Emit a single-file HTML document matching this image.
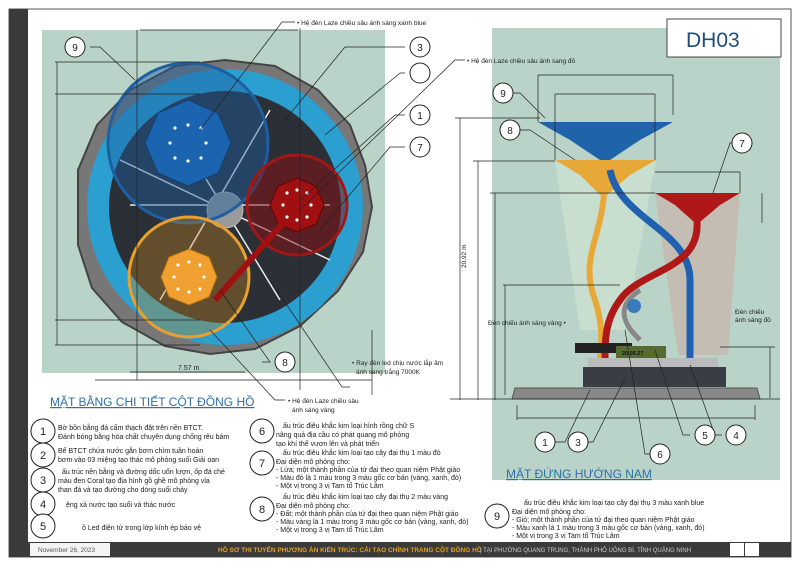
<!DOCTYPE html>
<html><head><meta charset="utf-8"><style>
body{margin:0;width:800px;height:565px;background:#fff;overflow:hidden;font-family:"Liberation Sans","DejaVu Sans",sans-serif}
svg text{font-family:"Liberation Sans","DejaVu Sans",sans-serif}
</style></head><body>
<svg width="800" height="565" viewBox="0 0 800 565" xmlns="http://www.w3.org/2000/svg">
<rect x="9" y="9" width="782" height="548" fill="#fff" stroke="#555" stroke-width="1"/>
<rect x="9" y="9" width="19" height="548" fill="#3a3a3a"/>
<!-- left panel -->
<rect x="42" y="30" width="343" height="343" fill="#b9d3c8"/>
<!-- right panel -->
<rect x="492" y="28" width="288" height="452" fill="#b9d3c8"/>
<rect x="667" y="19" width="114" height="38" fill="#fff" stroke="#444"/>
<text x="686" y="47" font-size="21" fill="#1f4e79">DH03</text>

<!-- plan -->
<polygon points="372,207 363,252 338,291 300,326 255,349 210,354 165,346 122,322 92,288 78,245 78,170 97,125 130,90 175,66 225,60 275,66 318,90 350,125 365,165" fill="#777" stroke="#444" stroke-width="2"/>
<circle cx="225" cy="207" r="138" fill="#2a9fd0"/>
<circle cx="225" cy="207" r="116" fill="#2b2f36"/>
<g stroke="#eee" stroke-width="1.5">
<line x1="130" y1="205" x2="330" y2="205"/><line x1="170" y1="120" x2="280" y2="300"/><line x1="270" y1="110" x2="160" y2="300"/><line x1="120" y1="160" x2="330" y2="260"/>
</g>
<circle cx="225" cy="210" r="18" fill="#9a9a9a" stroke="#bbb"/>
<circle cx="188" cy="143" r="80" fill="#1e5fa0" fill-opacity="0.45" stroke="#1e5fa0" stroke-width="3"/>
<polygon points="231,143 218,173 188,186 158,173 145,143 158,113 188,100 218,113" fill="#1b64b0" stroke="#163f70"/>
<circle cx="189" cy="277" r="60" fill="#c8861a" fill-opacity="0.35" stroke="#e8a030" stroke-width="3"/>
<polygon points="217,277 209,297 189,305 169,297 161,277 169,257 189,249 209,257" fill="#f0a030" stroke="#b07010"/>
<circle cx="297" cy="205" r="50" fill="#8b1010" fill-opacity="0.5" stroke="#a01818" stroke-width="3"/>
<polygon points="324,205 316,224 297,232 278,224 270,205 278,186 297,178 316,186" fill="#a01010" stroke="#600"/>
<line x1="215" y1="300" x2="290" y2="215" stroke="#a01010" stroke-width="6"/>
<g fill="#fff">
<circle cx="175" cy="128" r="1.6"/><circle cx="188" cy="125" r="1.6"/><circle cx="201" cy="128" r="1.6"/><circle cx="206" cy="143" r="1.6"/><circle cx="201" cy="158" r="1.6"/><circle cx="188" cy="161" r="1.6"/><circle cx="175" cy="158" r="1.6"/><circle cx="170" cy="143" r="1.6"/>
<circle cx="178" cy="265" r="1.6"/><circle cx="189" cy="262" r="1.6"/><circle cx="200" cy="265" r="1.6"/><circle cx="204" cy="277" r="1.6"/><circle cx="200" cy="289" r="1.6"/><circle cx="189" cy="292" r="1.6"/><circle cx="178" cy="289" r="1.6"/><circle cx="174" cy="277" r="1.6"/>
<circle cx="287" cy="193" r="1.6"/><circle cx="297" cy="190" r="1.6"/><circle cx="307" cy="193" r="1.6"/><circle cx="311" cy="205" r="1.6"/><circle cx="307" cy="217" r="1.6"/><circle cx="297" cy="220" r="1.6"/><circle cx="287" cy="217" r="1.6"/><circle cx="283" cy="205" r="1.6"/>
</g>
<g stroke="#222" stroke-width="0.7" fill="none">
<line x1="137" y1="30" x2="137" y2="380"/><line x1="300" y1="28" x2="300" y2="390"/><line x1="140" y1="30" x2="298" y2="30"/>
<line x1="57" y1="62" x2="57" y2="345"/><line x1="55" y1="62" x2="200" y2="62"/><line x1="55" y1="94" x2="200" y2="94"/><line x1="55" y1="320" x2="200" y2="320"/><line x1="55" y1="345" x2="200" y2="345"/>
<line x1="130" y1="372" x2="245" y2="372"/><line x1="95" y1="380" x2="372" y2="380"/><line x1="372" y1="330" x2="372" y2="395"/>
<polyline points="90,47 100,47 135,80"/><polyline points="295,22 282,22 200,130"/>
<polyline points="405,47 345,47 285,120"/><polyline points="405,73 400,73 325,135"/><polyline points="405,115 395,115 300,200"/><polyline points="405,147 390,147 320,230"/>
<polyline points="262,362 270,362 220,290"/><polyline points="350,387 342,387 270,280"/><polyline points="285,400 275,400 210,330"/>
<polyline points="465,60 455,60 300,210"/>
</g>
<g fill="#fff" stroke="#222" stroke-width="1">
<circle cx="75" cy="47" r="10"/><circle cx="420" cy="47" r="10"/><circle cx="420" cy="73" r="10"/><circle cx="420" cy="115" r="10"/><circle cx="420" cy="147" r="10"/><circle cx="285" cy="362" r="10"/>
</g>
<g font-size="10" text-anchor="middle" fill="#222">
<text x="75" y="51">9</text><text x="420" y="51">3</text><text x="420" y="119">1</text><text x="420" y="151">7</text><text x="285" y="366">8</text>
</g>
<g font-size="6.5" fill="#222">
<text x="297" y="25">• Hệ đèn Laze chiều sâu ánh sáng xanh blue</text>
<text x="467" y="63">• Hệ đèn Laze chiều sâu ánh sang đỏ</text>
<text x="352" y="365">• Ray đèn led chịu nước lắp âm</text><text x="356" y="374">ánh sang trắng 7000K</text>
<text x="288" y="403">• Hệ đèn Laze chiều sâu</text><text x="292" y="412">ánh sáng vàng</text>
<text x="178" y="370" font-size="7">7.57 m</text>
</g>
<text x="50" y="406" font-size="12" fill="#2f6fa8" text-decoration="underline">MẶT BẰNG CHI TIẾT CỘT ĐỒNG HỒ</text>

<!-- elevation -->
<polygon points="555,160 656,160 625,330 580,330" fill="#d8ecd8" opacity="0.5"/>
<polygon points="655,193 740,193 728,355 678,355" fill="#c9b4aa" opacity="0.7"/>
<polygon points="538,122 673,122 640,140 610,160 600,160 570,140" fill="#1f63a8"/>
<polygon points="555,160 656,160 630,175 607,195 600,195 580,175" fill="#e8a838"/>
<polygon points="655,193 740,193 720,205 700,222 694,222 675,205" fill="#b01818"/>
<path d="M604,195 C600,240 580,260 595,300 C605,330 600,350 600,360" stroke="#e8a838" stroke-width="6" fill="none"/>
<path d="M610,170 C620,220 690,230 690,280 L690,360" stroke="#2060b0" stroke-width="7" fill="none"/>
<path d="M697,222 C700,270 640,270 620,300 C605,320 605,340 605,360" stroke="#b01818" stroke-width="7" fill="none"/>
<path d="M640,290 C610,310 630,330 640,340" stroke="#888" stroke-width="5" fill="none"/>
<circle cx="634" cy="306" r="7" fill="#3a7ab8"/>
<rect x="575" y="343" width="57" height="10" fill="#222"/>
<rect x="616" y="346" width="50" height="12" fill="#556b2f"/>
<text x="622" y="355" font-size="5.5" fill="#111" font-weight="bold">20.06.27</text>
<rect x="588" y="358" width="130" height="10" fill="#bbb"/>
<rect x="583" y="367" width="143" height="20" fill="#3a3e44"/>
<polygon points="515,388 757,388 760,399 512,399" fill="#888" stroke="#555"/>
<g stroke="#222" stroke-width="0.7" fill="none">
<line x1="538" y1="75" x2="673" y2="75"/><line x1="538" y1="75" x2="538" y2="122"/><line x1="673" y1="75" x2="673" y2="115"/>
<line x1="555" y1="94" x2="655" y2="94"/><line x1="555" y1="94" x2="555" y2="160"/><line x1="655" y1="94" x2="655" y2="160"/>
<line x1="655" y1="172" x2="740" y2="172"/><line x1="740" y1="172" x2="740" y2="193"/><line x1="762" y1="193" x2="762" y2="223"/>
<line x1="460" y1="118" x2="460" y2="400"/><line x1="455" y1="118" x2="540" y2="118"/><line x1="478" y1="161" x2="478" y2="400"/><line x1="473" y1="161" x2="555" y2="161"/>
<line x1="495" y1="193" x2="495" y2="400"/><line x1="490" y1="193" x2="655" y2="193"/><line x1="505" y1="285" x2="505" y2="395"/><line x1="503" y1="285" x2="620" y2="285"/>
<line x1="770" y1="347" x2="770" y2="398"/><line x1="720" y1="347" x2="775" y2="347"/><line x1="450" y1="399" x2="780" y2="399"/>
<line x1="517" y1="418" x2="755" y2="418"/><line x1="517" y1="405" x2="517" y2="420"/><line x1="755" y1="405" x2="755" y2="420"/>
<polyline points="512,93 520,93 545,118"/><polyline points="520,130 530,130 575,160"/><polyline points="735,143 730,143 713,193"/>
<polyline points="555,442 565,442 590,390"/><polyline points="585,442 593,442 625,378"/><polyline points="650,454 645,454 625,330"/><polyline points="690,435 683,435 655,350"/><polyline points="722,435 715,435 690,365"/>
</g>
<g fill="#fff" stroke="#222" stroke-width="1">
<circle cx="503" cy="93" r="10"/><circle cx="510" cy="130" r="10"/><circle cx="742" cy="143" r="10"/>
<circle cx="545" cy="442" r="10"/><circle cx="578" cy="442" r="10"/><circle cx="660" cy="454" r="10"/><circle cx="705" cy="435" r="10"/><circle cx="736" cy="435" r="10"/>
</g>
<g font-size="10" text-anchor="middle" fill="#222">
<text x="503" y="97">9</text><text x="510" y="134">8</text><text x="742" y="147">7</text>
<text x="545" y="446">1</text><text x="578" y="446">3</text><text x="660" y="458">6</text><text x="705" y="439">5</text><text x="736" y="439">4</text>
</g>
<g font-size="6.5" fill="#222">
<text x="488" y="325">Đèn chiếu ánh sáng vàng •</text>
<text x="735" y="314">Đèn chiếu</text><text x="735" y="322">ánh sáng đỏ</text>
<text x="0" y="0" transform="translate(466,268) rotate(-90)">20.92 m</text>
</g>
<text x="506" y="478" font-size="12" fill="#2f6fa8" text-decoration="underline">MẶT ĐỨNG HƯỚNG NAM</text>

<!-- legend -->
<g fill="#fff" stroke="#222" stroke-width="1">
<circle cx="43" cy="431" r="12"/><circle cx="43" cy="455" r="12"/><circle cx="43" cy="480" r="12"/><circle cx="43" cy="504" r="12"/><circle cx="43" cy="526" r="12"/>
<circle cx="262" cy="431" r="12"/><circle cx="262" cy="463" r="12"/><circle cx="262" cy="509" r="12"/><circle cx="497" cy="516" r="12"/>
</g>
<g font-size="11" text-anchor="middle" fill="#222">
<text x="43" y="435">1</text><text x="43" y="459">2</text><text x="43" y="484">3</text><text x="43" y="508">4</text><text x="43" y="530">5</text>
<text x="262" y="435">6</text><text x="262" y="467">7</text><text x="262" y="513">8</text><text x="497" y="520">9</text>
</g>
<g font-size="7" fill="#222">
<text x="58" y="430">Bờ bồn bằng đá cẩm thạch đặt trên nền BTCT.</text>
<text x="58" y="439">Đánh bóng bằng hóa chất chuyên dụng chống rêu bám</text>
<text x="58" y="453">Bể BTCT chứa nước gắn bơm chìm tuần hoàn</text>
<text x="58" y="462">bơm vào 03 miệng tạo thác mô phỏng suối Giải oan</text>
<text x="62" y="474">ấu trúc nền bằng và đường dốc uốn lượn, ốp đá chẻ</text>
<text x="58" y="483">màu đen Coral tạo địa hình gồ ghề mô phỏng vỉa</text>
<text x="58" y="492">than đá và tạo đường cho dòng suối chảy</text>
<text x="66" y="507">ệng xả nước tạo suối và thác nước</text>
<text x="82" y="530">ồ Led điện tử trong lớp kính ép bảo vệ</text>
<text x="283" y="428">ấu trúc điêu khắc kim loại hình rồng chữ S</text>
<text x="276" y="437">nâng quả địa cầu có phát quang mô phỏng</text>
<text x="276" y="446">tạo khí thế vươn lên và phát triển</text>
<text x="283" y="455">ấu trúc điêu khắc kim loại tạo cây đại thụ 1 màu đỏ</text>
<text x="276" y="464">Đại diện mô phỏng cho:</text>
<text x="276" y="472">- Lửa; một thành phần của tứ đại theo quan niệm Phật giáo</text>
<text x="276" y="480">- Màu đỏ là 1 màu trong 3 màu gốc cơ bản (vàng, xanh, đỏ)</text>
<text x="276" y="488">- Một vị trong 3 vị Tam tổ Trúc Lâm</text>
<text x="283" y="499">ấu trúc điêu khắc kim loại tạo cây đại thụ 2 màu vàng</text>
<text x="276" y="508">Đại diện mô phỏng cho:</text>
<text x="276" y="516">- Đất; một thành phần của tứ đại theo quan niệm Phật giáo</text>
<text x="276" y="524">- Màu vàng là 1 màu trong 3 màu gốc cơ bản (vàng, xanh, đỏ)</text>
<text x="276" y="532">- Một vị trong 3 vị Tam tổ Trúc Lâm</text>
<text x="524" y="505">ấu trúc điêu khắc kim loại tạo cây đại thụ 3 màu xanh blue</text>
<text x="512" y="514">Đại diện mô phỏng cho:</text>
<text x="512" y="522">- Gió; một thành phần của tứ đại theo quan niệm Phật giáo</text>
<text x="512" y="530">- Màu xanh là 1 màu trong 3 màu gốc cơ bản (vàng, xanh, đỏ)</text>
<text x="512" y="538">- Một vị trong 3 vị Tam tổ Trúc Lâm</text>
</g>
<!-- footer -->
<rect x="28" y="542" width="763" height="15" fill="#3a3a3a"/>
<rect x="30" y="543" width="80" height="13" fill="#f4f4f4"/>
<text x="38" y="552" font-size="6.5" fill="#555">November 26, 2023</text>
<text x="218" y="552" font-size="6.5" fill="#e8a020" font-weight="bold">HỒ SƠ THI TUYỂN PHƯƠNG ÁN KIẾN TRÚC: CẢI TẠO CHỈNH TRANG CỘT ĐỒNG HỒ</text>
<text x="480" y="552" font-size="6" fill="#ccc">|  TẠI PHƯỜNG QUANG TRUNG, THÀNH PHỐ UÔNG BÍ, TỈNH QUẢNG NINH</text>
<rect x="730" y="543" width="14" height="13" fill="#fff"/><rect x="745" y="543" width="14" height="13" fill="#fff"/>
</svg>
</body></html>
